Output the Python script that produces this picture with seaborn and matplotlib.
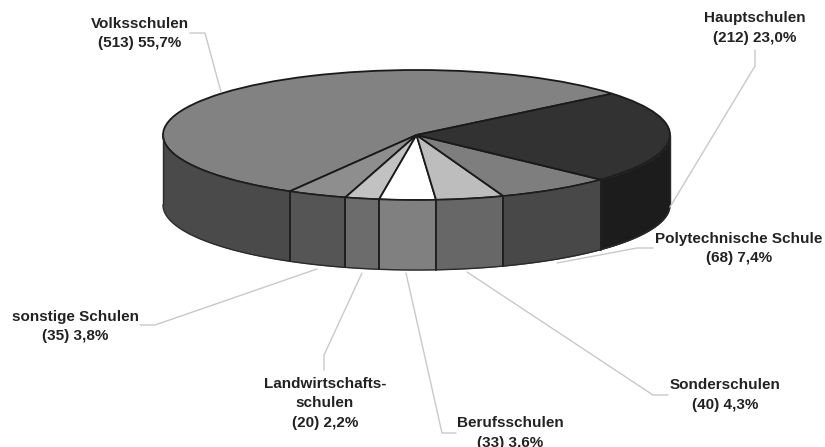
import numpy as np
import matplotlib
matplotlib.use("Agg")
import matplotlib.pyplot as plt
import seaborn as sns

categories = ["Volksschulen", "sonstige Schulen", "Landwirtschafts-\nschulen", "Berufsschulen",
              "Sonderschulen", "Polytechnische Schule", "Hauptschulen"]
counts = [513, 35, 20, 33, 40, 68, 212]
percents = ["55,7%", "3,8%", "2,2%", "3,6%", "4,3%", "7,4%", "23,0%"]
top_colors = ["#828282", "#8e8e8e", "#c2c2c2", "#ffffff", "#bdbdbd", "#7e7e7e", "#323232"]
side_colors = ["#4a4a4a", "#555555", "#6c6c6c", "#808080", "#676767", "#484848", "#1c1c1c"]

sns.set_theme(style="white")
plt.rcParams["font.family"] = ["Liberation Sans", "DejaVu Sans"]

W, H = 825, 447
CX, CY, A, B, DEPTH = 416.5, 135, 253.5, 65, 70
START = 39.5

fig = plt.figure(figsize=(W / 100, H / 100), dpi=100)
ax = fig.add_axes([0, 0, 1, 1])
wedges, _ = ax.pie(counts, colors=top_colors, startangle=START,
                   counterclock=True, radius=1,
                   wedgeprops=dict(edgecolor="#1a1a1a", linewidth=1.3))
ax.set_aspect("auto")
ax.set_xlim(-CX / A, (W - CX) / A)
ax.set_ylim(-(H - CY) / B, CY / B)
ax.set_axis_off()

# side wall: follows the slice angles, visible on the lower half of the rim only
d = DEPTH / B
angle = START
for value, col in zip(counts, side_colors):
    sweep = 360 * value / sum(counts)
    a0, a1 = angle, angle + sweep
    angle = a1
    for lo, hi in [(a0, a1), (a0 - 360, a1 - 360)]:
        lo2, hi2 = max(lo, -180), min(hi, 0)
        if hi2 <= lo2:
            continue
        t = np.radians(np.linspace(lo2, hi2, 80))
        x, y = np.cos(t), np.sin(t)
        ax.fill_between(x, y, y - d, color=col, linewidth=0, zorder=3)
        for e in (lo2, hi2):
            if -179 < e < -1:
                te = np.radians(e)
                ax.plot([np.cos(te)] * 2, [np.sin(te), np.sin(te) - d], color="#1e1e1e", lw=1.2, zorder=4)
        ax.plot(x, y, color="#1e1e1e", lw=1.2, zorder=4)
        ax.plot(x, y - d, color="#2a2a2a", lw=1.0, zorder=4)
t = np.radians([-180, 0])
ax.plot(np.cos(t[:1]).repeat(2), [0, -d], color="#2a2a2a", lw=1.0, zorder=4)
ax.plot(np.cos(t[1:]).repeat(2), [0, -d], color="#2a2a2a", lw=1.0, zorder=4)

# overlay in pixel coordinates for labels and leader lines
ov = fig.add_axes([0, 0, 1, 1], facecolor="none")
ov.set_xlim(0, W)
ov.set_ylim(H, 0)
ov.set_axis_off()

leaders = [
    ([190, 205, 221], [33, 33, 92]),
    ([317, 155, 140], [269, 325, 325]),
    ([362, 324, 324], [273, 355, 370]),
    ([406, 442, 456], [273, 433, 433]),
    ([467, 653, 668], [272, 395, 395]),
    ([557, 637, 653], [263, 248, 248]),
    ([670, 755, 755], [207, 66, 50]),
]
label_pos = [(140, 33.5), (75, 326.5), (325, 403), (510, 433), (725, 395), (739, 248.5), (755, 28)]
for xs, ys in leaders:
    ov.plot(xs, ys, color="#c9c9c9", lw=1.0)
for cat, n, p, (x, y) in zip(categories, counts, percents, label_pos):
    ov.text(x, y, f"{cat}\n({n}) {p}", ha="center", va="center", fontsize=11,
            fontweight="bold", color="#222222", linespacing=1.5)

fig.savefig("out.png", dpi=100)
